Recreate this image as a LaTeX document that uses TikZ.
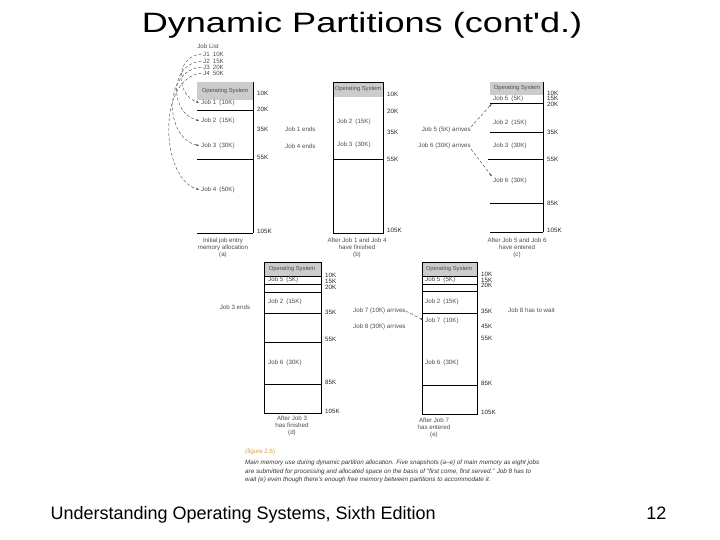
\documentclass[tikz,border=0pt]{standalone}
\usepackage{fontspec}
\setmainfont{Liberation Sans}
\newfontfamily\plainfont{Liberation Sans}
\usepackage{graphicx}
\usetikzlibrary{arrows.meta}
\definecolor{figlbl}{RGB}{215,160,70}

\begin{document}
\begin{tikzpicture}[x=1pt,y=-1pt,
  mem/.style={black, line width=0.7pt},
  osbox/.style={fill=black!20},
  tiny/.style={font=\fontsize{6.2}{7}\selectfont, text=black!70, inner sep=0pt},
  oslbl/.style={tiny, font=\fontsize{5.8}{7}\selectfont},
  addr/.style={tiny, anchor=west, text=black!85},
  job/.style={tiny, anchor=west},
  snapcap/.style={tiny, align=center},
  flow/.style={black!75, densely dashed, line width=0.4pt, shorten >=2pt,
    -{Stealth[length=3pt,width=2pt]}}]
\useasboundingbox (0,0) rectangle (720,540);

% title and footer
\node[font=\plainfont\fontsize{28}{34}\selectfont, anchor=base] (title) at (362,33)
  {\scalebox{1.29}[1]{Dynamic Partitions (cont'd.)}};
\node[font=\fontsize{18}{22}\selectfont, anchor=base west] (book) at (47,519)
  {Understanding Operating Systems, Sixth Edition};
\node[font=\fontsize{18}{22}\selectfont, anchor=base east] (page) at (670,519) {12};

% (a) initial allocation
\node[tiny] (joblist) at (208,46) {Job List};
\node[job] (j1) at (203,54) {J1\enspace 10K};
\node[job] (j2) at (203,61) {J2\enspace 15K};
\node[job] (j3) at (203,67) {J3\enspace 20K};
\node[job] (j4) at (203,73) {J4\enspace 50K};
\fill[osbox] (197,82) rectangle (253,100);
\draw[mem] (253,82) -- (253,233);
\draw[mem] (197,110) -- (253,110);
\draw[mem] (197,159) -- (253,159);
\draw[mem] (197,233) -- (253,233);
\node[oslbl] (osa) at (225,91) {Operating System};
\node[job] (a1) at (201,103) {Job 1\enspace(10K)};
\node[job] (a2) at (201,121) {Job 2\enspace(15K)};
\node[job] (a3) at (201,146) {Job 3\enspace(30K)};
\node[job] (a4) at (201,190) {Job 4\enspace(50K)};
\node[addr] (ka10) at (257,93) {10K};
\node[addr] (ka20) at (257,109) {20K};
\node[addr] (ka35) at (257,129) {35K};
\node[addr] (ka55) at (257,157) {55K};
\node[addr] (ka105) at (257,231) {105K};
\node[snapcap] (capa) at (223,248) {Initial job entry\\memory allocation\\(a)};
\draw[flow, shorten <=1.5pt] (j1.west) .. controls (174,56) and (176,96) .. (a1.west);
\draw[flow, shorten <=1.5pt] (j2.west) .. controls (168,64) and (170,114) .. (a2.west);
\draw[flow, shorten <=1.5pt] (j3.west) .. controls (163,70) and (164,138) .. (a3.west);
\draw[flow, shorten <=1.5pt] (j4.west) .. controls (156,78) and (161,180) .. (a4.west);
\node[job] (end1) at (285,129) {Job 1 ends};
\node[job] (end4) at (285,146) {Job 4 ends};

% (b) after jobs 1 and 4
\fill[osbox] (333,82) rectangle (383,97);
\draw[mem] (333,82) rectangle (383,233);
\draw[mem] (333,159) -- (383,159);
\node[oslbl] (osb) at (358,89) {Operating System};
\node[job] (b2) at (337,122) {Job 2\enspace(15K)};
\node[job] (b3) at (337,145) {Job 3\enspace(30K)};
\node[addr] (kb10) at (387,94) {10K};
\node[addr] (kb20) at (387,111) {20K};
\node[addr] (kb35) at (387,132) {35K};
\node[addr] (kb55) at (387,159) {55K};
\node[addr] (kb105) at (387,230) {105K};
\node[snapcap] (capb) at (357,248) {After Job 1 and Job 4\\have finished\\(b)};

% (c) after jobs 5 and 6
\fill[osbox] (490,82) rectangle (543,95);
\draw[mem] (543,82) -- (543,232);
\draw[mem] (490,103) -- (543,103);
\draw[mem] (490,132) -- (543,132);
\draw[mem] (488,159) -- (543,159);
\draw[mem] (490,203) -- (543,203);
\draw[mem] (490,232) -- (543,232);
\node[oslbl] (osc) at (517,88.5) {Operating System};
\node[job] (c5) at (493,99.3) {Job 5\enspace(5K)};
\node[job] (c2) at (493,123) {Job 2\enspace(15K)};
\node[job] (c3) at (493,146) {Job 3\enspace(30K)};
\node[job] (c6) at (493,181) {Job 6\enspace(30K)};
\node[addr] (kc10) at (547,93) {10K};
\node[addr] (kc15) at (547,98) {15K};
\node[addr] (kc20) at (547,104) {20K};
\node[addr] (kc35) at (547,132) {35K};
\node[addr] (kc55) at (547,159) {55K};
\node[addr] (kc85) at (547,203) {85K};
\node[addr] (kc105) at (547,230) {105K};
\node[tiny, anchor=east] (arr5) at (471,130) {Job 5 (5K) arrives};
\node[tiny, anchor=east] (arr6) at (471,146) {Job 6 (30K) arrives};
\draw[flow] (arr5.north east) -- (c5.south west);
\draw[flow] (arr6.south east) -- (c6.north west);
\node[snapcap] (capc) at (517,248) {After Job 5 and Job 6\\have entered\\(c)};

% (d) after job 3
\fill[osbox] (264,262) rectangle (321,276);
\draw[mem] (264,262) rectangle (321,413);
\draw[mem] (264,276) -- (321,276);
\draw[mem] (264,284) -- (321,284);
\draw[mem] (264,292) -- (321,292);
\draw[mem] (264,313) -- (321,313);
\draw[mem] (264,342) -- (321,342);
\draw[mem] (264,384) -- (321,384);
\node[oslbl] (osd) at (292,269) {Operating System};
\node[job] (d5) at (268,280.3) {Job 5\enspace(5K)};
\node[job] (d2) at (268,302) {Job 2\enspace(15K)};
\node[job] (d6) at (268,363) {Job 6\enspace(30K)};
\node[addr] (kd10) at (325,275) {10K};
\node[addr] (kd15) at (325,281) {15K};
\node[addr] (kd20) at (325,287) {20K};
\node[addr] (kd35) at (325,312) {35K};
\node[addr] (kd55) at (325,339) {55K};
\node[addr] (kd85) at (325,382) {85K};
\node[addr] (kd105) at (325,411) {105K};
\node[tiny] (end3) at (235,307) {Job 3 ends};
\node[snapcap] (capd) at (292,426) {After Job 3\\has finished\\(d)};

% (e) after job 7
\fill[osbox] (422,262) rectangle (477,276);
\draw[mem] (422,262) rectangle (477,414);
\draw[mem] (422,276) -- (477,276);
\draw[mem] (422,284) -- (477,284);
\draw[mem] (422,291) -- (477,291);
\draw[mem] (422,313) -- (477,313);
\draw[mem] (422,385) -- (477,385);
\node[oslbl] (ose) at (449,269) {Operating System};
\node[job] (e5) at (425,280.3) {Job 5\enspace(5K)};
\node[job] (e2) at (425,302) {Job 2\enspace(15K)};
\node[job] (e7) at (425,321) {Job 7\enspace(10K)};
\node[job] (e6) at (425,363) {Job 6\enspace(30K)};
\node[addr] (ke10) at (481,274) {10K};
\node[addr] (ke15) at (481,280) {15K};
\node[addr] (ke20) at (481,285) {20K};
\node[addr] (ke35) at (481,311) {35K};
\node[addr] (ke45) at (481,326) {45K};
\node[addr] (ke55) at (481,338) {55K};
\node[addr] (ke85) at (481,383) {85K};
\node[addr] (ke105) at (481,412) {105K};
\node[job] (arr7) at (353,311) {Job 7 (10K) arrives};
\node[job] (arr8) at (353,327) {Job 8 (30K) arrives};
\draw[flow] (arr7.east) -- (e7.west);
\node[job] (wait8) at (508,310) {Job 8 has to wait};
\node[snapcap] (cape) at (434,428) {After Job 7\\has entered\\(e)};

% figure caption
\node[tiny, anchor=west, text=figlbl] (fig) at (245,452) {(figure 2.6)};
\node[tiny, anchor=north west, align=left, font=\fontsize{6.3}{8.6}\selectfont\itshape, text=black!80] (figtext) at (245,460)
  {Main memory use during dynamic partition allocation. Five snapshots (a–e) of main memory as eight jobs\\
   are submitted for processing and allocated space on the basis of “first come, first served.” Job 8 has to\\
   wait (e) even though there’s enough free memory between partitions to accommodate it.};
\end{tikzpicture}
\end{document}
